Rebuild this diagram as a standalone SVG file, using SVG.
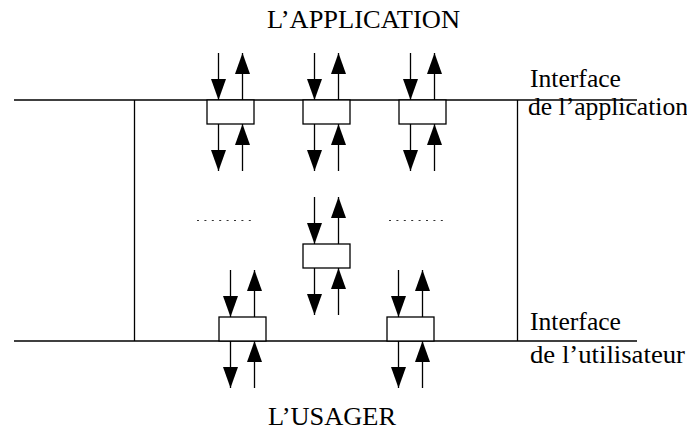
<svg xmlns="http://www.w3.org/2000/svg" width="687" height="430" viewBox="0 0 687 430">
  <style>
    .frame { stroke: #000; stroke-width: 1.3; fill: none; }
    .box { fill: #fff; stroke: #000; stroke-width: 1.3; }
    .arrow { stroke: #000; stroke-width: 1.3; fill: none; marker-end: url(#head); }
    .dots { stroke: #333; stroke-width: 1.2; stroke-dasharray: 2 5.4; fill: none; }
    .label { font-family: "Liberation Serif", "Times New Roman", serif; font-size: 24.8px; fill: #000; }
  </style>
  <defs>
    <marker id="head" markerUnits="userSpaceOnUse" markerWidth="22" markerHeight="16" refX="21" refY="7.5" orient="auto">
      <path d="M0,0 L21,7.5 L0,15 Z" fill="#000"/>
    </marker>
  </defs>

  <rect width="687" height="430" fill="#fff"/>

  <!-- interface lines and side walls -->
  <g id="frame">
    <line class="frame" x1="14" y1="100" x2="637" y2="100"/>
    <line class="frame" x1="14" y1="341" x2="637" y2="341"/>
    <line class="frame" x1="134.5" y1="100" x2="134.5" y2="341"/>
    <line class="frame" x1="517.5" y1="100" x2="517.5" y2="341"/>
  </g>

  <!-- ellipsis marks beside the middle module -->
  <g id="ellipsis">
    <line class="dots" x1="197" y1="220.5" x2="252" y2="220.5"/>
    <line class="dots" x1="389" y1="220.5" x2="444" y2="220.5"/>
  </g>

  <!-- modules -->
  <g id="mod-top-1"><rect class="box" x="207" y="100" width="47" height="24"/></g>
  <g id="mod-top-2"><rect class="box" x="303" y="100" width="47" height="24"/></g>
  <g id="mod-top-3"><rect class="box" x="399" y="100" width="47" height="24"/></g>
  <g id="mod-mid"><rect class="box" x="303" y="244" width="47" height="24"/></g>
  <g id="mod-bot-1"><rect class="box" x="219" y="317" width="47" height="24"/></g>
  <g id="mod-bot-2"><rect class="box" x="387" y="317" width="47" height="24"/></g>

  <!-- in/out flows of each module -->
  <g id="connectors">
    <!-- top modules -->
    <line class="arrow" x1="218.5" y1="53" x2="218.5" y2="100"/>
    <line class="arrow" x1="242.5" y1="100" x2="242.5" y2="53"/>
    <line class="arrow" x1="218.5" y1="124" x2="218.5" y2="171"/>
    <line class="arrow" x1="242.5" y1="171" x2="242.5" y2="124"/>

    <line class="arrow" x1="314.5" y1="53" x2="314.5" y2="100"/>
    <line class="arrow" x1="338.5" y1="100" x2="338.5" y2="53"/>
    <line class="arrow" x1="314.5" y1="124" x2="314.5" y2="171"/>
    <line class="arrow" x1="338.5" y1="171" x2="338.5" y2="124"/>

    <line class="arrow" x1="410.5" y1="53" x2="410.5" y2="100"/>
    <line class="arrow" x1="434.5" y1="100" x2="434.5" y2="53"/>
    <line class="arrow" x1="410.5" y1="124" x2="410.5" y2="171"/>
    <line class="arrow" x1="434.5" y1="171" x2="434.5" y2="124"/>

    <!-- middle module -->
    <line class="arrow" x1="314.5" y1="197" x2="314.5" y2="244"/>
    <line class="arrow" x1="338.5" y1="244" x2="338.5" y2="197"/>
    <line class="arrow" x1="314.5" y1="268" x2="314.5" y2="315"/>
    <line class="arrow" x1="338.5" y1="315" x2="338.5" y2="268"/>

    <!-- bottom modules -->
    <line class="arrow" x1="230.5" y1="270" x2="230.5" y2="317"/>
    <line class="arrow" x1="254.5" y1="317" x2="254.5" y2="270"/>
    <line class="arrow" x1="230.5" y1="341" x2="230.5" y2="388"/>
    <line class="arrow" x1="254.5" y1="388" x2="254.5" y2="341"/>

    <line class="arrow" x1="398.5" y1="270" x2="398.5" y2="317"/>
    <line class="arrow" x1="422.5" y1="317" x2="422.5" y2="270"/>
    <line class="arrow" x1="398.5" y1="341" x2="398.5" y2="388"/>
    <line class="arrow" x1="422.5" y1="388" x2="422.5" y2="341"/>
  </g>

  <!-- labels (set slightly wide) -->
  <g id="labels">
    <text class="label" x="267" y="28" textLength="193" lengthAdjust="spacingAndGlyphs">L’APPLICATION</text>
    <text class="label" x="268" y="425" textLength="128" lengthAdjust="spacingAndGlyphs">L’USAGER</text>
    <text class="label" x="530" y="87" textLength="91" lengthAdjust="spacingAndGlyphs">Interface</text>
    <text class="label" x="528" y="115" textLength="160" lengthAdjust="spacingAndGlyphs">de l’application</text>
    <text class="label" x="530" y="330" textLength="91" lengthAdjust="spacingAndGlyphs">Interface</text>
    <text class="label" x="530" y="363" textLength="155" lengthAdjust="spacingAndGlyphs">de l’utilisateur</text>
  </g>
</svg>
